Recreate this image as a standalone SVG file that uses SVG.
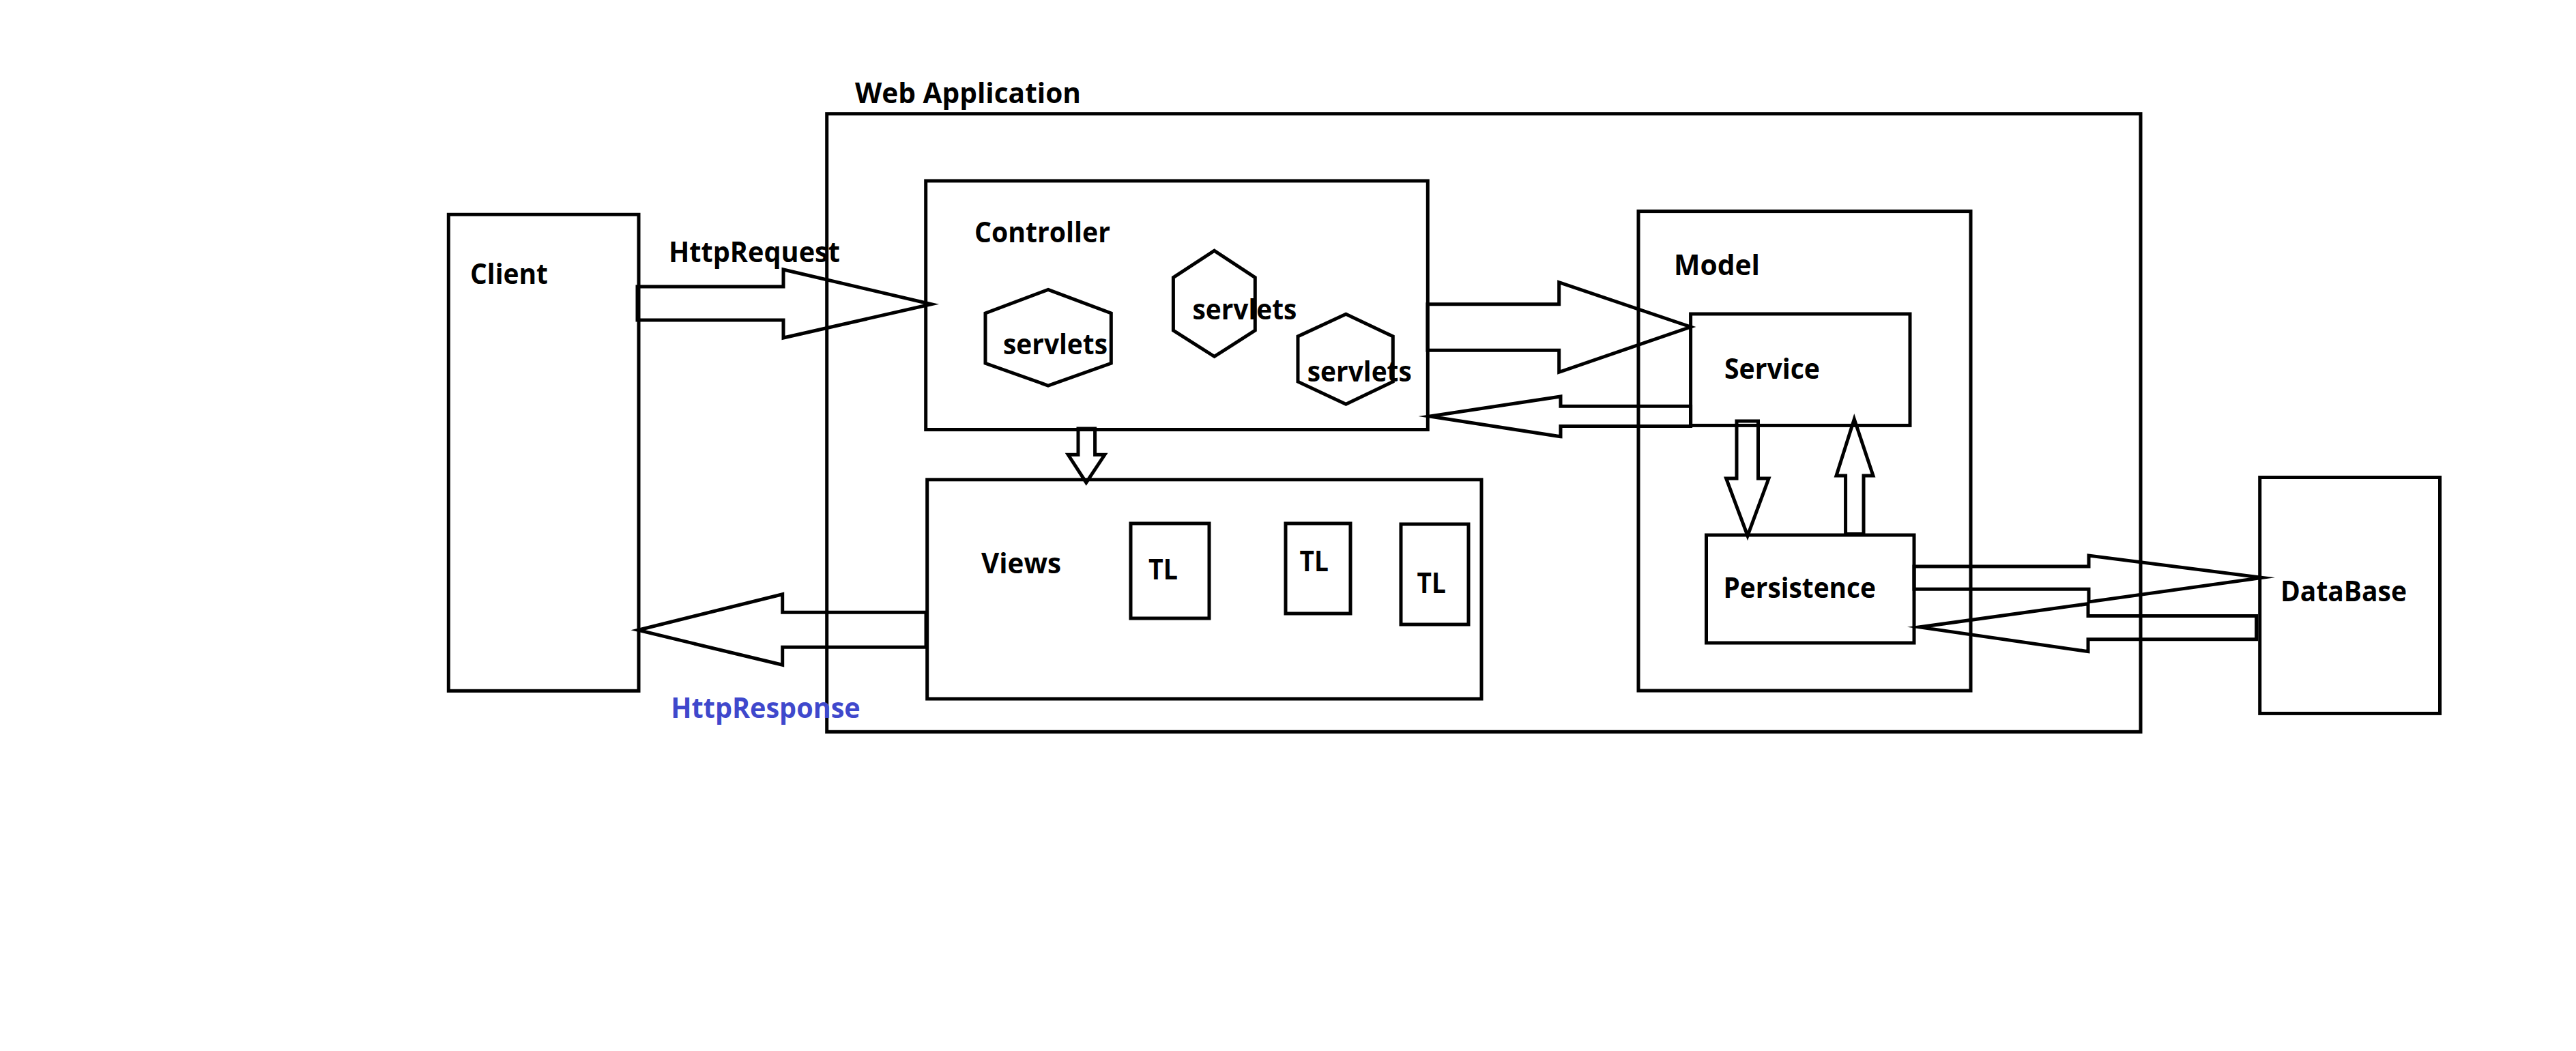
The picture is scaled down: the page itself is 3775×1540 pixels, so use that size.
<svg xmlns="http://www.w3.org/2000/svg" width="3775" height="1540" viewBox="0 0 3775 1540">
<style>
.box{fill:none;stroke:#000;stroke-width:5;stroke-linejoin:miter}
.conn{fill:none;stroke:#000;stroke-width:5;stroke-linejoin:miter;stroke-miterlimit:20}
.lbl{font-family:"Open Sans","Liberation Sans",sans-serif;font-weight:700;font-size:42px;fill:#000}
.blue{fill:#3F48CC}
</style>
<rect width="3775" height="1540" fill="#fff"/>
<g id="webapp">
<rect class="box" x="1211.7" y="166.7" width="1925.3" height="905.6"/>
<text class="lbl" x="1253" y="151" textLength="331" lengthAdjust="spacingAndGlyphs">Web Application</text>
</g>
<g id="client">
<rect class="box" x="657.3" y="314.3" width="278.7" height="698"/>
<text class="lbl" x="689" y="416" textLength="114" lengthAdjust="spacingAndGlyphs">Client</text>
</g>
<g id="controller">
<rect class="box" x="1356.7" y="265" width="735.6" height="364.5"/>
<text class="lbl" x="1428" y="355" textLength="199" lengthAdjust="spacingAndGlyphs">Controller</text>
</g>
<g id="servlets1">
<polygon class="box" points="1536,424.3 1628.3,459 1628.3,532.3 1536,565 1444,532.3 1444,459"/>
<text class="lbl" x="1470" y="519.3" textLength="153" lengthAdjust="spacingAndGlyphs">servlets</text>
</g>
<g id="servlets2">
<polygon class="box" points="1779.6,367.3 1839.3,406.6 1839.3,484.2 1779.6,522.4 1719.4,484.2 1719.4,406.6"/>
<text class="lbl" x="1747.4" y="468.4" textLength="153" lengthAdjust="spacingAndGlyphs">servlets</text>
</g>
<g id="servlets3">
<polygon class="box" points="1972.4,460.2 2041.3,492.9 2041.3,559.2 1972.4,592.3 1902,559.2 1902,492.9"/>
<text class="lbl" x="1915.8" y="559.2" textLength="153" lengthAdjust="spacingAndGlyphs">servlets</text>
</g>
<g id="views">
<rect class="box" x="1358.7" y="702.8" width="812.3" height="321.2"/>
<text class="lbl" x="1438" y="840" textLength="117" lengthAdjust="spacingAndGlyphs">Views</text>
</g>
<g id="tl1">
<rect class="box" x="1657" y="767" width="115" height="139"/>
<text class="lbl" x="1683" y="848.5" textLength="43" lengthAdjust="spacingAndGlyphs">TL</text>
</g>
<g id="tl2">
<rect class="box" x="1884" y="767" width="95" height="132"/>
<text class="lbl" x="1904.6" y="837.2" textLength="42.4" lengthAdjust="spacingAndGlyphs">TL</text>
</g>
<g id="tl3">
<rect class="box" x="2053" y="768" width="99" height="147"/>
<text class="lbl" x="2076.5" y="869.3" textLength="42.4" lengthAdjust="spacingAndGlyphs">TL</text>
</g>
<g id="model">
<rect class="box" x="2401" y="309.6" width="487" height="702.4"/>
<text class="lbl" x="2453" y="402.5" textLength="126" lengthAdjust="spacingAndGlyphs">Model</text>
</g>
<g id="service">
<rect class="box" x="2477.6" y="460" width="321.4" height="163.4"/>
<text class="lbl" x="2527" y="554.5" textLength="140" lengthAdjust="spacingAndGlyphs">Service</text>
</g>
<g id="persistence">
<rect class="box" x="2500.5" y="784" width="304.5" height="158"/>
<text class="lbl" x="2525.5" y="876" textLength="223.5" lengthAdjust="spacingAndGlyphs">Persistence</text>
</g>
<g id="database">
<rect class="box" x="3311.7" y="699.5" width="263.8" height="345.9"/>
<text class="lbl" x="3342" y="880.6" textLength="185" lengthAdjust="spacingAndGlyphs">DataBase</text>
</g>
<g id="connectors">
<polygon class="conn" points="934,420 1148,420 1148,395 1365,445.7 1148,495 1148,469 934,469"/>
<text class="lbl" x="980" y="383.7" textLength="251" lengthAdjust="spacingAndGlyphs">HttpRequest</text>
<polygon class="conn" points="1357,897.3 1146.7,897.3 1146.7,870.7 935,923.3 1146.7,974.3 1146.7,948.3 1357,948.3"/>
<text class="lbl blue" x="983.3" y="1052.3" textLength="277.4" lengthAdjust="spacingAndGlyphs">HttpResponse</text>
<polygon class="conn" points="1580,628 1604.6,628 1604.6,666.3 1618.9,666.3 1591.8,707.1 1565.3,666.3 1580,666.3"/>
<polygon class="conn" points="2092,445.8 2284.7,445.8 2284.7,413.7 2477.6,479 2284.7,545.3 2284.7,513.2 2092,513.2"/>
<polygon class="conn" points="2477.6,595.3 2287,595.3 2287,581 2095,610 2287,639.7 2287,624.4 2477.6,624.4"/>
<polygon class="conn" points="2545,617 2576.5,617 2576.5,701 2592,701 2561,785 2529.6,701 2545,701"/>
<polygon class="conn" points="2704.6,782.5 2704.6,697 2691,697 2717.3,614 2745,697 2731,697 2731,782.5"/>
<polygon class="conn" points="2805,830 3061,830 3061,814 3315,846.4 3061,882 3061,863.3 2805,863.3"/>
<polygon class="conn" points="3306.6,902.5 3060,902.5 3060,884.7 2812.8,918.9 3060,954.6 3060,936.7 3306.6,936.7"/>
</g>
</svg>
